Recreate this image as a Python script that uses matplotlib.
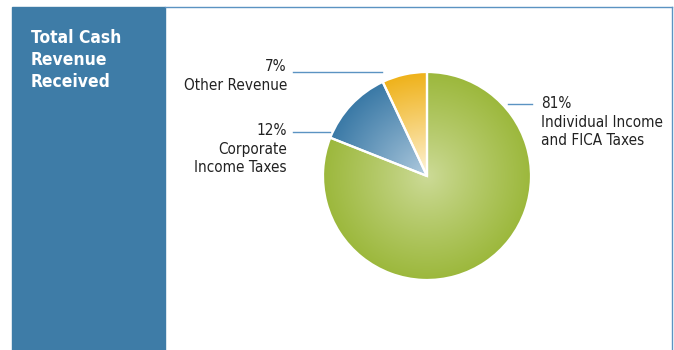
import numpy as np
import matplotlib.pyplot as plt
from matplotlib.colors import LinearSegmentedColormap
from matplotlib.patches import Rectangle
from matplotlib import font_manager

# revenue shares, in percent
categories = ['Individual Income\nand FICA Taxes', 'Corporate\nIncome Taxes', 'Other Revenue']
shares = [81, 12, 7]
share_labels = ['81%', '12%', '7%']

# radial gradient per slice: (centre colour, rim colour)
slice_colors = [('#cddb98', '#9cb83c'),
                ('#b3cde0', '#3a79a6'),
                ('#fff6e0', '#efb21a')]

W, H = 674, 350
panel_blue = '#3e7ca7'
line_blue = '#5b93c2'

names = {f.name for f in font_manager.fontManager.ttflist}
narrow = 'Liberation Sans Narrow' if 'Liberation Sans Narrow' in names else 'DejaVu Sans'
font = [narrow, 'DejaVu Sans']

fig = plt.figure(figsize=(W / 100, H / 100), dpi=100)
ax = fig.add_axes([0, 0, 1, 1])


def yy(y):
    # pixel row measured from the top -> data y
    return H - y


cx, cy, r = 427, yy(176), 104
wedges, _ = ax.pie(shares, center=(cx, cy), radius=r, startangle=90,
                   counterclock=False, frame=True,
                   wedgeprops=dict(edgecolor='white', linewidth=1.6))
ax.set_xlim(0, W)
ax.set_ylim(0, H)
ax.set_aspect('auto')
ax.axis('off')

# side panel and frame
ax.add_patch(Rectangle((12, 0), 153, yy(7), color=panel_blue, zorder=1))
ax.plot([165, 671.5], [yy(7), yy(7)], color=line_blue, lw=1.0, zorder=1)
ax.plot([671.5, 671.5], [yy(7), 0], color=line_blue, lw=1.0, zorder=1)

ax.text(31, yy(29), 'Total Cash\nRevenue\nReceived', color='white', fontsize=12.5,
        fontweight='bold', family=font, fontstretch='condensed',
        va='top', ha='left', linespacing=1.3)

gx, gy = np.meshgrid(np.linspace(cx - r, cx + r, 300), np.linspace(cy - r, cy + r, 300))
dist = np.clip(np.hypot(gx - cx, gy - cy) / r, 0, 1)
for w, (c0, c1) in zip(wedges, slice_colors):
    cmap = LinearSegmentedColormap.from_list('grad', [c0, c1])
    img = ax.imshow(dist ** 0.9, cmap=cmap, vmin=0, vmax=1, origin='lower',
                    extent=(cx - r, cx + r, cy - r, cy + r), zorder=2,
                    interpolation='bilinear')
    img.set_clip_path(w)
    w.set_zorder(3)
    w.set_facecolor('none')
ax.set_xlim(0, W)
ax.set_ylim(0, H)

# leader lines
ax.plot([293, 382], [yy(72), yy(72)], color=line_blue, lw=1.0, zorder=4)
ax.plot([293, 330], [yy(132), yy(132)], color=line_blue, lw=1.0, zorder=4)
ax.plot([508, 532], [yy(104), yy(104)], color=line_blue, lw=1.0, zorder=4)

txt = dict(fontsize=11, family=font, fontstretch='condensed', color='#222222',
           linespacing=1.3)
ax.text(287, yy(59), share_labels[2] + '\n' + categories[2], ha='right', va='top',
        multialignment='right', **txt)
ax.text(287, yy(123), share_labels[1] + '\n' + categories[1], ha='right', va='top',
        multialignment='right', **txt)
ax.text(541, yy(96), share_labels[0] + '\n' + categories[0], ha='left', va='top',
        multialignment='left', **txt)

fig.savefig('out.png', dpi=100)
